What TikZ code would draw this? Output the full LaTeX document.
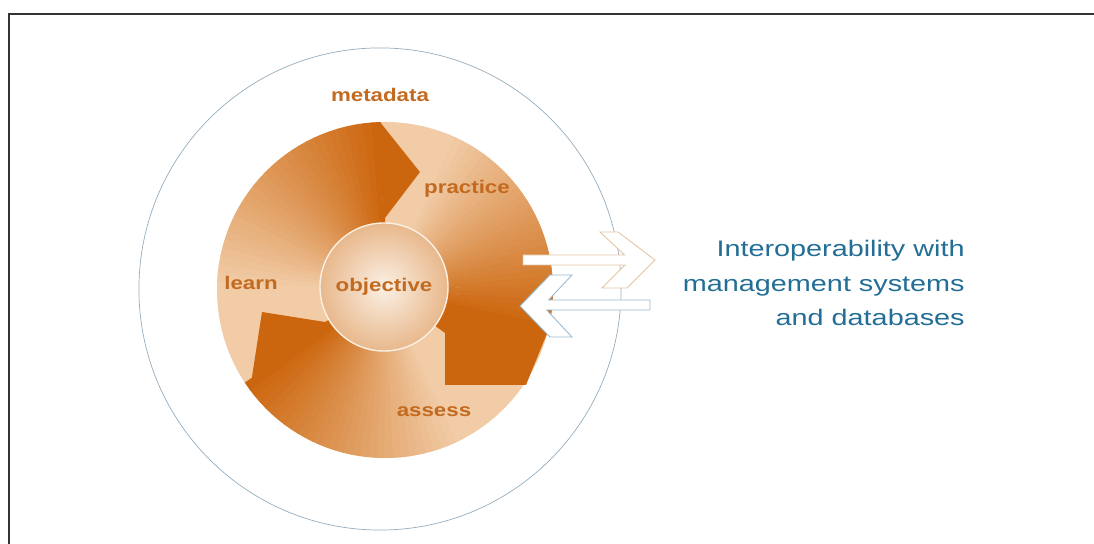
\documentclass[tikz,border=0pt]{standalone}
\usepackage{fontspec}
\setmainfont{Liberation Sans}
\usepackage{tikz}
\usetikzlibrary{calc, positioning}

\definecolor{peach}{RGB}{241,204,166}
\definecolor{rust}{RGB}{204,102,14}
\definecolor{labelorange}{RGB}{194,106,32}
\definecolor{interopblue}{RGB}{35,110,150}
\definecolor{outerline}{RGB}{150,172,188}
\definecolor{spherelight}{RGB}{251,240,228}
\definecolor{sphereedge}{RGB}{232,184,140}
\definecolor{tanline}{RGB}{226,196,160}
\definecolor{blueline}{RGB}{150,186,206}

\begin{document}
\begin{tikzpicture}[x=0.025cm, y=0.025cm]

  \tikzstyle{cyclelabel} = [font={\fontsize{13}{15}\selectfont\bfseries}, text=labelorange, xscale=1.22, transform shape];
  \tikzstyle{blockarrow} = [fill=white, line width=0.6pt];

  \useasboundingbox (0,0) rectangle (1094,544);

  % frame
  \draw[line width=1.4pt, black!80] (1094,530) -- (9,530) -- (9,0);

  \node [circle, draw=outerline, line width=0.5pt, inner sep=0pt, minimum size=12.05cm] (outer) at (380,255) {};

  \coordinate (C) at (385,254);
  \fill[peach] (C) circle[radius=168];

  % learn -> practice
  \foreach \i [evaluate=\i as \a using 180-2.943*\i, evaluate=\i as \p using 100*\i/29] in {0,...,29}
    \fill[rust!\p!peach] ($(C)+(\a:60)$) -- ($(C)+(\a:168)$) arc[start angle=\a, end angle=\a-3.2, radius=168]
      -- ($(C)+(\a-3.2:60)$) -- cycle;
  \fill[rust] ($(C)+(91.7:60)$) -- ($(C)+(91.7:168)$) -- ($(C)+(73.5:123)$) -- ($(C)+(90:72)$) -- ($(C)+(90:60)$) -- cycle;

  % practice -> assess
  \foreach \i [evaluate=\i as \a using 68-2.747*\i, evaluate=\i as \p using 100*\i/29] in {0,...,29}
    \fill[rust!\p!peach] ($(C)+(\a:60)$) -- ($(C)+(\a:168)$) arc[start angle=\a, end angle=\a-3, radius=168]
      -- ($(C)+(\a-3:60)$) -- cycle;
  \fill[rust] ($(C)+(-14.4:60)$) -- ($(C)+(-14.4:168)$) -- (526,159) -- (445,159) -- (445,211)
    -- ($(C)+(-35.6:60)$) -- cycle;

  % assess -> learn
  \foreach \i [evaluate=\i as \a using -62-2.81*\i, evaluate=\i as \p using 100*\i/29] in {0,...,29}
    \fill[rust!\p!peach] ($(C)+(\a:60)$) -- ($(C)+(\a:168)$) arc[start angle=\a, end angle=\a-3.1, radius=168]
      -- ($(C)+(\a-3.1:60)$) -- cycle;
  \fill[rust] ($(C)+(-143.5:60)$) -- ($(C)+(-143.5:168)$) -- (262,232) -- (325,222) -- ($(C)+(-152:60)$) -- cycle;

  \node [circle, inner sep=0pt, minimum size=3.2cm, inner color=spherelight, outer color=sphereedge,
         draw=spherelight, line width=1pt] (sphere) at (384,257) {};

  \node [cyclelabel] (objective) at (sphere) {objective};
  \node [cyclelabel] (metadata)  at (380,449) {metadata};
  \node [cyclelabel] (practice)  at (467,355) {practice};
  \node [cyclelabel] (learn)     at (251,261) {learn};
  \node [cyclelabel] (assess)    at (434,132) {assess};

  % exchange arrows
  \draw[blockarrow, draw=tanline] (523,279) -- (523,289) -- (624.6,289) -- (600,312) -- (618,312) -- (655,284)
    -- (627,256) -- (602,256) -- (625,279) -- cycle;
  \draw[blockarrow, draw=blueline] (650,244) -- (548.6,244) -- (572,269) -- (550,269) -- (520,238)
    -- (550,207) -- (572,207) -- (546.7,234) -- (650,234) -- cycle;

  \node [anchor=east, align=right, inner sep=0pt, text=interopblue, font={\fontsize{16}{24.5}\selectfont},
         xscale=1.28, transform shape] (interop) at (965,261) {Interoperability with\\management systems\\and databases};

\end{tikzpicture}
\end{document}
